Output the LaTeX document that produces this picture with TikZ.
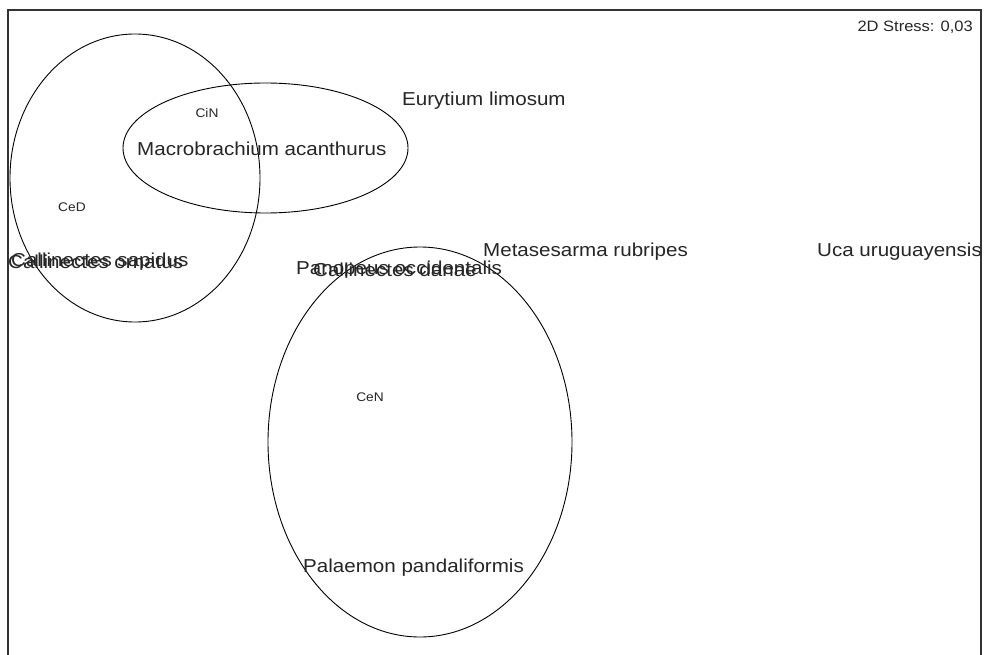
\documentclass[tikz,border=0pt]{standalone}
\usepackage{fontspec}
\setmainfont{Liberation Sans}[FakeStretch=1.1]
\tikzset{
  lbl/.style={anchor=west, inner sep=0pt, font=\fontsize{18.7}{19}\selectfont, text=black!85},
  small/.style={inner sep=0pt, font=\fontsize{12.5}{12.5}\selectfont, text=black!85},
  grp/.style={draw=black, line width=0.9pt},
}
\begin{document}
\begin{tikzpicture}[x=1pt,y=-1pt]
\useasboundingbox (0,0) rectangle (984,655);
\clip (0,0) rectangle (984,655);
\fill[white] (0,0) rectangle (984,655);
\draw[line width=1.5pt, draw=black!80] (8,10) rectangle (981,670);
\node[small, anchor=east, font=\fontsize{15}{15}\selectfont] (stress) at (973,27) {2D Stress: 0,03};
% groups
\draw[grp] (135,178) ellipse [x radius=125pt, y radius=144pt];
\draw[grp] (265.5,148) ellipse [x radius=142.5pt, y radius=65pt];
\draw[grp] (420,442) ellipse [x radius=152pt, y radius=195pt];
\node[small] (cin) at (207,113) {CiN};
\node[small] (ced) at (72,207) {CeD};
\node[small] (cen) at (370,397) {CeN};
% species
\node[lbl] (eur) at (402,101) {Eurytium limosum};
\node[lbl] (mac) at (137,149) {Macrobrachium acanthurus};
\node[lbl] (met) at (483,252) {Metasesarma rubripes};
\node[lbl] (uca) at (817,252) {Uca uruguayensis};
\node[lbl] (pan) at (296,270) {Panopeus occidentalis};
\node[lbl] (cda) at (313,270) {Callinectes danae};
\node[lbl] (cor) at (8,262) {Callinectes ornatus};
\node[lbl] (csa) at (11,262) {Callinectes sapidus};
\node[lbl] (pal) at (303,568) {Palaemon pandaliformis};
\end{tikzpicture}
\end{document}
